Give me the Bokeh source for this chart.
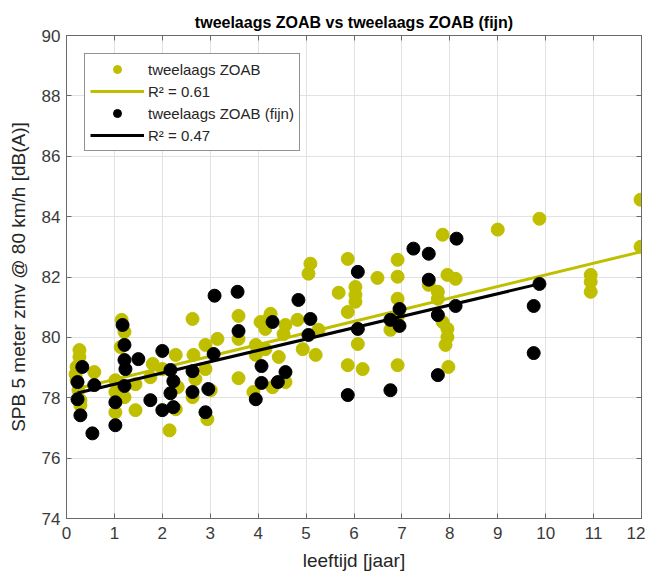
from bokeh.plotting import figure
from bokeh.models import Range1d, FixedTicker, LinearAxis, Legend, LegendItem
from bokeh.embed import file_html
from bokeh.resources import INLINE

# ---- data ----
zoab_x = [0.27, 0.27, 0.21, 0.21, 0.25, 0.29, 0.29, 0.19, 0.58, 1.15,
          1.21, 1.02, 1.02, 1.02, 1.13, 1.21, 1.44, 1.44, 1.80, 2.00,
          2.15, 1.75, 2.28, 2.32, 2.28, 2.63, 2.65, 2.69, 2.63, 2.90,
          2.90, 3.01, 2.94, 3.15, 3.59, 3.59, 3.59, 3.90, 3.95, 3.95,
          4.05, 4.22, 4.15, 4.15, 4.26, 4.30, 4.43, 4.53, 4.57, 4.57,
          4.82, 4.93, 5.20, 5.26, 5.09, 5.05, 5.87, 5.68, 6.03, 6.03,
          6.03, 5.87, 6.08, 5.87, 6.18, 6.49, 6.91, 6.91, 6.91, 6.93,
          6.76, 6.91, 7.85, 7.95, 8.12, 7.56, 7.75, 7.75, 7.85, 7.95,
          7.95, 7.91, 7.97, 9.00, 9.87, 11.98, 11.98, 10.94, 10.94, 10.94]
zoab_y = [79.58, 79.35, 79.02, 78.58, 78.25, 77.92, 77.75, 78.78, 78.85, 80.58,
          80.18, 78.58, 78.19, 77.52, 79.68, 78.02, 78.45, 77.59, 79.12, 78.95,
          76.92, 78.68, 79.42, 78.35, 77.62, 80.61, 79.42, 78.62, 78.02, 79.75,
          78.95, 78.25, 77.29, 79.95, 80.71, 79.95, 78.65, 78.19, 79.75, 79.42,
          80.51, 80.61, 80.28, 79.61, 80.78, 78.35, 79.35, 80.11, 80.41, 78.52,
          80.58, 79.61, 79.42, 80.25, 82.44, 82.11, 82.60, 81.48, 81.67, 81.41,
          81.18, 80.84, 79.78, 79.08, 78.95, 81.97, 82.57, 82.01, 81.28, 80.74,
          80.25, 79.08, 83.40, 82.07, 81.94, 81.74, 81.51, 81.28, 80.51, 80.28,
          80.01, 79.75, 79.02, 83.57, 83.93, 84.56, 83.00, 82.07, 81.84, 81.51]

fijn_x = [0.23, 0.33, 0.23, 0.29, 0.54, 0.58, 1.02, 1.02, 1.17, 1.21,
          1.21, 1.23, 1.21, 1.50, 1.75, 2.00, 2.00, 2.17, 2.23, 2.17,
          2.23, 2.63, 2.63, 2.96, 2.90, 3.07, 3.09, 3.57, 3.59, 3.95,
          4.07, 4.07, 4.30, 4.41, 4.57, 4.84, 5.05, 5.09, 5.87, 6.08,
          6.08, 6.76, 6.76, 6.95, 6.95, 7.24, 7.56, 7.56, 7.75, 7.75,
          8.14, 8.12, 9.75, 9.75, 9.87]
fijn_y = [78.52, 79.02, 77.95, 77.42, 76.82, 78.42, 77.85, 77.09, 80.41, 79.75,
          79.25, 78.95, 78.39, 79.28, 77.92, 79.55, 77.59, 78.92, 78.55, 78.15,
          77.69, 78.88, 78.19, 78.29, 77.52, 79.45, 81.38, 81.51, 80.21, 77.95,
          79.05, 78.49, 80.51, 78.52, 78.85, 81.24, 80.08, 80.61, 78.09, 82.17,
          80.28, 78.25, 80.58, 80.94, 80.38, 82.94, 82.77, 81.91, 80.74, 78.75,
          83.27, 81.04, 79.48, 81.04, 81.77]

# linear fits (intercept, slope)
fit_zoab = [78.22, 0.385]
fit_fijn = [78.07, 0.375]

x_ticks = list(range(0, 13))
y_ticks = list(range(74, 91, 2))
legend_labels = ["tweelaags ZOAB", "R\u00b2 = 0.61", "tweelaags ZOAB (fijn)", "R\u00b2 = 0.47"]
title_text = "tweelaags ZOAB vs tweelaags ZOAB (fijn)"
x_label = "leeftijd [jaar]"
y_label = "SPB 5 meter zmv @ 80 km/h [dB(A)]"

YELLOW = "#bfbf00"
BLACK = "#000000"
FONT = "Liberation Sans"
AXIS_COL = "#6a6a6a"
TEXT_COL = "#3a3a3a"

p = figure(width=645, height=573, output_backend="svg", toolbar_location=None,
           x_range=Range1d(0, 12), y_range=Range1d(74, 90),
           min_border_left=66, min_border_right=4, min_border_top=35, min_border_bottom=0,
           title=title_text)
p.background_fill_color = "white"
p.border_fill_color = "white"
p.outline_line_color = AXIS_COL

p.title.align = "center"
p.title.text_font = FONT
p.title.text_font_size = "16px"
p.title.text_font_style = "bold"
p.title.text_color = "#000000"

for ax, ticks, lab in ((p.xaxis[0], x_ticks, x_label), (p.yaxis[0], y_ticks, y_label)):
    ax.ticker = FixedTicker(ticks=ticks)
    ax.axis_label = lab
    ax.axis_label_text_font = FONT
    ax.axis_label_text_font_size = "19px"
    ax.axis_label_text_font_style = "normal"
    ax.axis_label_text_color = "#262626"
    ax.major_label_text_font = FONT
    ax.major_label_text_font_size = "17px"
    ax.major_label_text_color = TEXT_COL
    ax.axis_line_color = AXIS_COL
    ax.major_tick_line_color = AXIS_COL
    ax.major_tick_in = 5
    ax.major_tick_out = 0
    ax.minor_tick_in = 0
    ax.minor_tick_out = 0
p.xaxis[0].major_label_standoff = 8
p.xaxis[0].axis_label_standoff = 8
p.yaxis[0].major_label_standoff = 6
p.yaxis[0].axis_label_standoff = 10

# box ticks on right and top (no labels)
for loc, ticks in (("right", y_ticks), ("above", x_ticks)):
    bx = LinearAxis(ticker=FixedTicker(ticks=ticks),
                    major_label_overrides={t: "" for t in ticks},
                    major_label_text_font_size="0px",
                    axis_line_color=AXIS_COL, major_tick_line_color=AXIS_COL,
                    major_tick_in=5, major_tick_out=0, minor_tick_in=0, minor_tick_out=0,
                    major_label_standoff=0)
    p.add_layout(bx, loc)

p.xgrid.ticker = FixedTicker(ticks=x_ticks)
p.ygrid.ticker = FixedTicker(ticks=y_ticks)
p.xgrid.grid_line_color = "#e2e2e2"
p.ygrid.grid_line_color = "#e2e2e2"

# glyphs
r1 = p.scatter(zoab_x, zoab_y, size=13, color=YELLOW, line_color=YELLOW)
zx = [min(zoab_x), max(zoab_x)]
l1 = p.line(zx, [fit_zoab[0] + fit_zoab[1] * v for v in zx], line_color=YELLOW, line_width=3)
r2 = p.scatter(fijn_x, fijn_y, size=13, color=BLACK, line_color=BLACK)
fx = [min(fijn_x), max(fijn_x)]
l2 = p.line(fx, [fit_fijn[0] + fit_fijn[1] * v for v in fx], line_color=BLACK, line_width=3)

legend = Legend(items=[LegendItem(label=legend_labels[0], renderers=[r1]),
                       LegendItem(label=legend_labels[1], renderers=[l1]),
                       LegendItem(label=legend_labels[2], renderers=[r2]),
                       LegendItem(label=legend_labels[3], renderers=[l2])],
                location="top_left")
legend.label_text_font = FONT
legend.label_text_font_size = "15px"
legend.label_text_color = "#262626"
legend.glyph_width = 54
legend.glyph_height = 20
legend.label_height = 20
legend.spacing = 2
legend.padding = 5
legend.margin = 18
legend.label_standoff = 4
legend.border_line_color = "#262626"
legend.border_line_width = 1
legend.background_fill_alpha = 1.0
p.add_layout(legend)

open("out.html", "w").write(file_html(p, INLINE))
